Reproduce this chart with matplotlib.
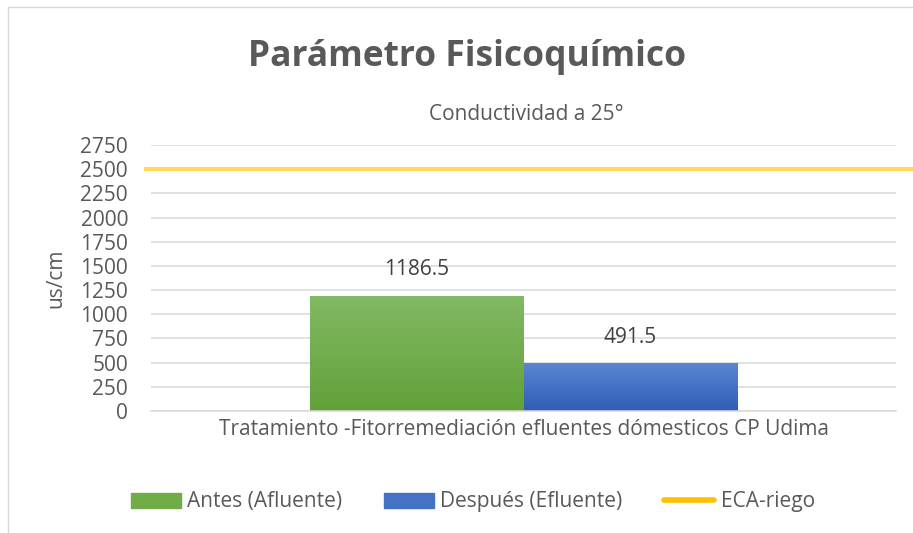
import matplotlib
matplotlib.use("Agg")
import matplotlib.pyplot as plt
import numpy as np
from matplotlib.patches import Rectangle
from matplotlib.lines import Line2D
from matplotlib.colors import LinearSegmentedColormap

plt.rcParams['font.family'] = ['Open Sans', 'DejaVu Sans']

category = "Tratamiento -Fitorremediación efluentes dómesticos CP Udima"
series_names = ["Antes (Afluente)", "Después (Efluente)"]
series_values = [1186.5, 491.5]
eca_name = "ECA-riego"
eca_value = 2500
yticks = [0, 250, 500, 750, 1000, 1250, 1500, 1750, 2000, 2250, 2500, 2750]

title = "Parámetro Fisicoquímico"
subtitle = "Conductividad a 25°"
ylabel = "us/cm"

W, H = 913, 533
fig = plt.figure(figsize=(W / 100, H / 100), dpi=100)
txt = "#595959"
fs = 15

# outer chart border
fig.patches.append(Rectangle((8 / W, -0.1), 1.2, 1 - 7 / H + 0.1, transform=fig.transFigure,
                             fill=False, edgecolor="#D9D9D9", linewidth=1.0))

ax = fig.add_axes([151 / W, 1 - 411 / H, (896 - 151) / W, (411 - 145) / H])
ax.set_yticks(yticks)
ax.set_yticklabels([str(v) for v in yticks], fontsize=fs, color=txt)
ax.yaxis.grid(True, color="#D9D9D9", linewidth=1.1)
ax.set_axisbelow(True)
ax.tick_params(axis='y', length=0, pad=16.5)
ax.set_xticks([])
for s in ["top", "right", "left"]:
    ax.spines[s].set_visible(False)
ax.spines["bottom"].set_color("#D9D9D9")
ax.spines["bottom"].set_linewidth(1.1)

w = 0.286
colors_top = ["#82B964", "#5B86D0"]
colors_bot = ["#62A139", "#2E5DB6"]
solid = ["#70AD47", "#4472C4"]
offsets = [-w / 2, w / 2]
for name, v, off, ct, cb in zip(series_names, series_values, offsets, colors_top, colors_bot):
    bar = ax.bar(off, v, width=w, color=cb, zorder=2)[0]
    cmap = LinearSegmentedColormap.from_list("g", [cb, ct])
    grad = np.linspace(0, 1, 256).reshape(-1, 1)
    im = ax.imshow(grad, cmap=cmap, aspect='auto', origin='lower',
                   extent=(off - w / 2, off + w / 2, 0, v), zorder=2.1)
    im.set_clip_path(bar)
    ax.annotate(f"{v}", (off, v), xytext=(0, 19), textcoords="offset points",
                ha="center", va="center", fontsize=fs, color="#404040")

ax.set_xlim(-0.5, 0.5)
ax.set_ylim(0, 2750)

ax.axhline(eca_value, xmin=-0.007, xmax=1.03, color="#FFD85E", linewidth=3, clip_on=False, zorder=3)

ax.set_xlabel(category, fontsize=fs, color=txt, labelpad=6)
ax.set_ylabel(ylabel, fontsize=fs, color=txt)
ax.yaxis.set_label_coords((66 - 151) / (896 - 151), 0.5)

fig.text(467 / W, 1 - 57 / H, title, ha="center", va="center", fontsize=25.5,
         fontweight="bold", color=txt)
fig.text(526 / W, 1 - 114 / H, subtitle, ha="center", va="center", fontsize=fs, color=txt)

handles = [Rectangle((0, 0), 1, 1, color=solid[0]),
           Rectangle((0, 0), 1, 1, color=solid[1]),
           Line2D([0], [0], color="#FFC000", linewidth=4, solid_capstyle="round")]
leg = fig.legend(handles, series_names + [eca_name], loc="center",
                 bbox_to_anchor=(473 / W, 1 - 502 / H), ncol=3, frameon=False,
                 fontsize=fs, handlelength=2.4, handleheight=0.7, handletextpad=0.3,
                 columnspacing=2.0, labelcolor=txt, borderpad=0)

fig.savefig("out.png", dpi=100)
